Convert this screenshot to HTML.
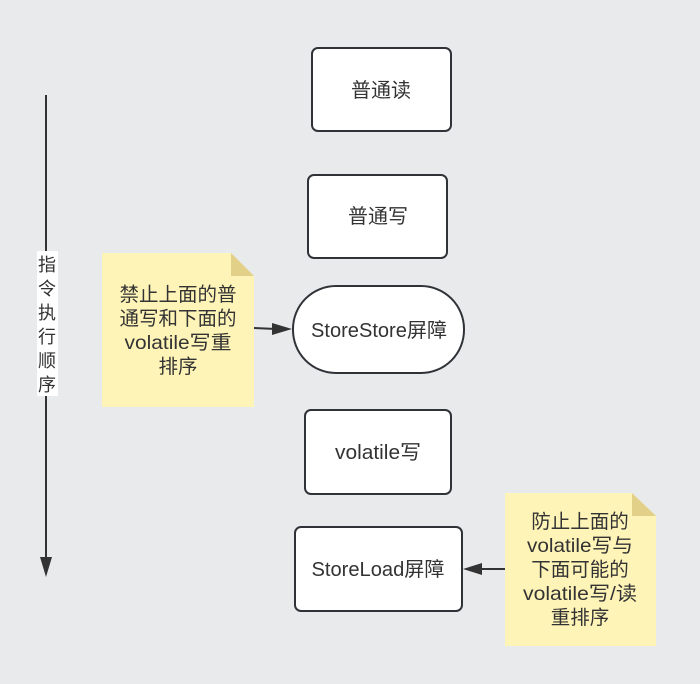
<!DOCTYPE html>
<html><head><meta charset="utf-8"><style>
html,body{margin:0;padding:0;background:#e9eaec;}
svg{display:block;}
text{font-family:"Liberation Sans","Noto Sans CJK SC",sans-serif;fill:#333;}
</style></head><body>
<svg width="700" height="684" viewBox="0 0 700 684" xmlns="http://www.w3.org/2000/svg">
<rect width="700" height="684" fill="#e9eaec"/>
<line x1="46" y1="95" x2="46" y2="560" stroke="#333" stroke-width="2"/>
<polygon points="40,557 52,557 46,577" fill="#333"/>
<rect x="37" y="251" width="21" height="145" fill="#fff"/>
<g font-size="18" text-anchor="middle">
<text x="47" y="271">指</text>
<text x="47" y="295">令</text>
<text x="47" y="319">执</text>
<text x="47" y="343">行</text>
<text x="47" y="367">顺</text>
<text x="47" y="391">序</text>
</g>
<g fill="#fff" stroke="#2f3338" stroke-width="2">
<rect x="312" y="48" width="139" height="83" rx="6"/>
<rect x="308" y="175" width="139" height="83" rx="6"/>
<rect x="293" y="286" width="171" height="87" rx="43"/>
<rect x="305" y="410" width="146" height="84" rx="6"/>
<rect x="295" y="527" width="167" height="84" rx="6"/>
</g>
<g font-size="20" text-anchor="middle" lengthAdjust="spacingAndGlyphs">
<text x="381" y="97">普通读</text>
<text x="378" y="223">普通写</text>
<text x="379" y="337" textLength="136" lengthAdjust="spacingAndGlyphs">StoreStore屏障</text>
<text x="378" y="459" textLength="86" lengthAdjust="spacingAndGlyphs">volatile写</text>
<text x="378" y="576" textLength="133" lengthAdjust="spacingAndGlyphs">StoreLoad屏障</text>
</g>
<polygon points="102,253 231,253 254,276 254,407 102,407" fill="#fff4b8"/>
<polygon points="231,253 254,276 231,276" fill="#e2cf88"/>
<g font-size="19.5" text-anchor="middle">
<text x="178" y="301">禁止上面的普</text>
<text x="178" y="325">通写和下面的</text>
<text x="178" y="349" textLength="107" lengthAdjust="spacingAndGlyphs">volatile写重</text>
<text x="178" y="373">排序</text>
</g>
<line x1="254" y1="328" x2="276" y2="329" stroke="#333" stroke-width="2"/>
<polygon points="272,323 292,329 272,335" fill="#333"/>
<polygon points="505,493 632,493 656,516 656,646 505,646" fill="#fff4b8"/>
<polygon points="632,493 656,516 632,516" fill="#e2cf88"/>
<g font-size="19.5" text-anchor="middle">
<text x="580" y="528">防止上面的</text>
<text x="580" y="552" textLength="106" lengthAdjust="spacingAndGlyphs">volatile写与</text>
<text x="580" y="576">下面可能的</text>
<text x="580" y="600" textLength="114" lengthAdjust="spacingAndGlyphs">volatile写/读</text>
<text x="580" y="624">重排序</text>
</g>
<line x1="505" y1="569" x2="478" y2="569" stroke="#333" stroke-width="2"/>
<polygon points="482,563 463,569 482,575" fill="#333"/>
</svg>
</body></html>
